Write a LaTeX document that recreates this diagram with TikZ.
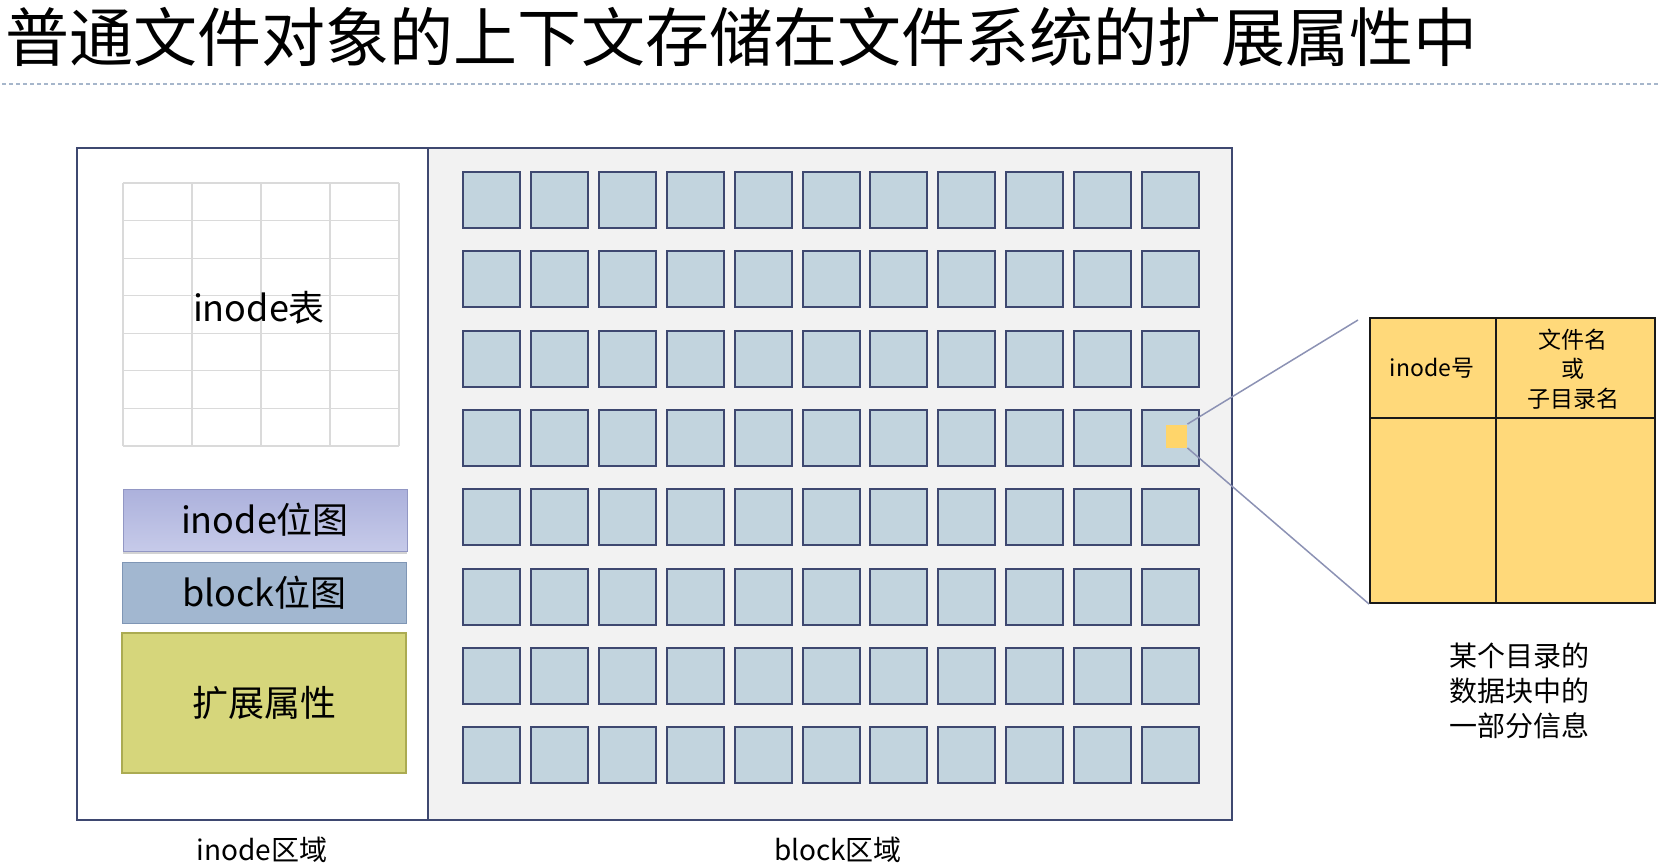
\documentclass[tikz,border=0pt]{standalone}
\usepackage{fontspec}
\setmainfont{Noto Sans CJK SC}
\usetikzlibrary{shadows}
\definecolor{navy}{HTML}{3E4870}
\definecolor{sqfill}{HTML}{C2D4DE}
\definecolor{blkbg}{HTML}{F2F2F2}
\definecolor{gridc}{HTML}{DADADA}
\definecolor{lavtop}{HTML}{ACB1DC}
\definecolor{lavbot}{HTML}{C6CAE9}
\definecolor{lavline}{HTML}{9297C4}
\definecolor{bbfill}{HTML}{A2B7D0}
\definecolor{bbline}{HTML}{7F96B5}
\definecolor{xafill}{HTML}{D6D67B}
\definecolor{xaline}{HTML}{ABAB52}
\definecolor{dirfill}{HTML}{FFD97A}
\definecolor{hlfill}{HTML}{FFD56A}
\definecolor{zoomline}{HTML}{8C92B4}
\definecolor{dashc}{HTML}{A6B6CB}
\tikzset{
  blocksq/.style={draw=navy, line width=1pt, fill=sqfill, minimum width=28.5pt, minimum height=28pt, inner sep=0pt},
  panel/.style={inner sep=0pt, minimum width=142pt},
  lbl/.style={inner sep=0pt, font=\fontsize{14pt}{17.5pt}\selectfont},
  midlbl/.style={inner sep=0pt, font=\fontsize{18pt}{21.5pt}\selectfont},
  tablbl/.style={inner sep=0pt, align=center, font=\fontsize{11.5pt}{14.75pt}\selectfont},
  zoomln/.style={draw=zoomline, line width=0.75pt},
}
\begin{document}
\begin{tikzpicture}[x=0.5pt,y=-0.5pt]
\useasboundingbox (0,0) rectangle (1661,866);
% title
\node[anchor=west, inner sep=0pt, font=\fontsize{32pt}{36pt}\selectfont] (title) at (5,37) {普通文件对象的上下文存储在文件系统的扩展属性中};
\draw[dashc, line width=0.75pt, dash pattern=on 2pt off 1.5pt] (2,84) -- (1660,84);
% regions
\fill[blkbg] (428,148) rectangle (1232,820);
\draw[navy, line width=1.25pt] (77,148) rectangle (1232,820);
\draw[navy, line width=1.25pt] (428,148) -- (428,820);
% inode table grid
\foreach \i in {0,...,4} \draw[gridc, line width=0.6pt] (123+69*\i,183) -- (123+69*\i,446);
\foreach \j in {0,...,7} \draw[gridc, line width=0.6pt] (123,183+37.57*\j) -- (399,183+37.57*\j);
\node[midlbl] (itable) at (259,308) {inode表};
% bitmaps and xattr
\node[panel, minimum height=31pt, top color=lavtop, bottom color=lavbot, draw=lavline, line width=0.5pt,
      drop shadow={shadow xshift=0pt, shadow yshift=-1.5pt, opacity=0.35}, midlbl] (ibmp) at (265,520) {inode位图};
\node[panel, minimum height=30.5pt, fill=bbfill, draw=bbline, line width=0.5pt, midlbl] (bbmp) at (264.5,592.5) {block位图};
\node[panel, minimum height=70pt, fill=xafill, draw=xaline, line width=0.6pt, midlbl] (xattr) at (264,703) {扩展属性};
% block grid
\foreach \r in {0,...,7}
  \foreach \c in {0,...,10}
    \node[blocksq] (sq-\r-\c) at (491.5+67.9*\c, 200+79.3*\r) {};
% region labels
\node[lbl] (ilbl) at (262,850) {inode区域};
\node[lbl] (blbl) at (838,850) {block区域};
% highlighted entry
\node[fill=hlfill, minimum width=10.5pt, minimum height=11.5pt, inner sep=0pt] (hl) at (1176.5,436) {};
% directory table
\node[draw=black!90, line width=1pt, fill=dirfill, minimum width=142.5pt, minimum height=142.5pt, inner sep=0pt] (dirtab) at (1512.5,460.5) {};
\draw[black!90, line width=1pt] (1496,318) -- (1496,603);
\draw[black!90, line width=1pt] (1370,418) -- (1655,418);
\node[tablbl] (inonum) at (1432,368) {inode号};
\node[tablbl] (fname) at (1573,369) {文件名\\或\\子目录名};
\coordinate (zoomtop) at (1358,320);
\draw[zoomln] (hl.north east) -- (zoomtop);
\draw[zoomln] (hl.south east) -- (dirtab.south west);
% caption
\node[lbl, align=center] (cap) at (1519,691) {某个目录的\\数据块中的\\一部分信息};
\end{tikzpicture}
\end{document}
